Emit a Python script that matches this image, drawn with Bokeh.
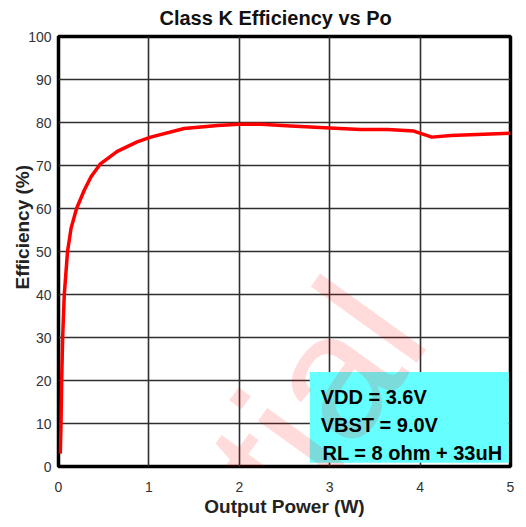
from bokeh.plotting import figure
from bokeh.models import FixedTicker, BoxAnnotation, Label, Range1d, Title
from bokeh.embed import file_html
from bokeh.resources import INLINE

# ---- data ----
power_w = [0.02, 0.028, 0.035, 0.046, 0.064, 0.10, 0.14, 0.20, 0.286, 0.36, 0.46,
           0.65, 0.87, 1.02, 1.39, 1.76, 2.0, 2.24, 2.57, 3.0, 3.34, 3.64, 3.93,
           4.13, 4.34, 5.0]
efficiency = [3, 10, 20, 30, 40, 50, 55.5, 60, 64.3, 67.4, 70.3,
              73.3, 75.5, 76.6, 78.6, 79.3, 79.6, 79.6, 79.2, 78.7, 78.4, 78.4, 78.0,
              76.6, 77.0, 77.5]
x_ticks = [0, 1, 2, 3, 4, 5]
y_ticks = [0, 10, 20, 30, 40, 50, 60, 70, 80, 90, 100]
note_lines = ["VDD = 3.6V", "VBST  = 9.0V", "RL = 8 ohm + 33uH"]

FONT = "Liberation Sans"

p = figure(width=518, height=519, output_backend="svg", toolbar_location=None,
           x_range=Range1d(0, 5), y_range=Range1d(0, 100),
           min_border_left=58, min_border_right=8, min_border_top=36, min_border_bottom=52,
           title="Class K Efficiency vs Po")

p.title.text_font = FONT
p.title.text_font_size = "20px"
p.title.text_font_style = "bold"
p.title.text_color = "#111111"
p.title.align = "left"
p.title.offset = 101
p.title.vertical_align = "top"
p.title.standoff = 12

p.background_fill_color = "white"
p.border_fill_color = "white"
p.outline_line_color = "black"
p.outline_line_width = 3.5

for ax in (p.xaxis[0], p.yaxis[0]):
    ax.axis_line_color = None
    ax.major_tick_line_color = None
    ax.minor_tick_line_color = None
    ax.major_tick_out = 0
    ax.major_tick_in = 0
    ax.major_label_text_font = FONT
    ax.major_label_text_font_size = "14px"
    ax.major_label_text_color = "#333333"
    ax.axis_label_text_font = FONT
    ax.axis_label_text_font_size = "19px"
    ax.axis_label_text_font_style = "bold"
    ax.axis_label_text_color = "#222222"

p.xaxis[0].ticker = FixedTicker(ticks=x_ticks)
p.yaxis[0].ticker = FixedTicker(ticks=y_ticks)
p.xaxis[0].major_label_standoff = 15
p.yaxis[0].major_label_standoff = 7
p.xaxis[0].axis_label = "Output Power (W)"
p.xaxis[0].axis_label_standoff = 1

p.xgrid[0].ticker = FixedTicker(ticks=x_ticks)
p.ygrid[0].ticker = FixedTicker(ticks=y_ticks)
for g in (p.xgrid[0], p.ygrid[0]):
    g.grid_line_color = "#2e2e2e"
    g.grid_line_width = 1.6

# y-axis title as a side-panel title, positioned slightly above the frame's center
ytitle = Title(text="Efficiency (%)", align="left", offset=177, standoff=-14,
               vertical_align="bottom", text_font=FONT, text_font_size="19px",
               text_font_style="bold", text_color="#222222")
p.add_layout(ytitle, "left")

p.line(power_w, efficiency, line_color="#FF0000", line_width=3.5, line_join="round")

p.add_layout(BoxAnnotation(left=2.78, right=4.98, bottom=0.9, top=22,
                           fill_color="#66FFFF", fill_alpha=1.0, line_color=None))

# watermark
p.add_layout(Label(x=382, y=303, x_units="canvas", y_units="canvas",
                   text="Confidential", angle=54.3, angle_units="deg",
                   text_align="right", text_baseline="alphabetic",
                   text_font=FONT, text_font_size="180px",
                   text_color="#FF0000", text_alpha=0.14))

for txt, yy, xx in zip(note_lines, [16.2, 9.7, 3.2], [2.9, 2.9, 2.92]):
    p.add_layout(Label(x=xx, y=yy, text=txt, text_align="left", text_baseline="alphabetic",
                       text_font=FONT, text_font_size="20px", text_font_style="bold",
                       text_color="black"))

open("out.html", "w").write(file_html(p, INLINE))
